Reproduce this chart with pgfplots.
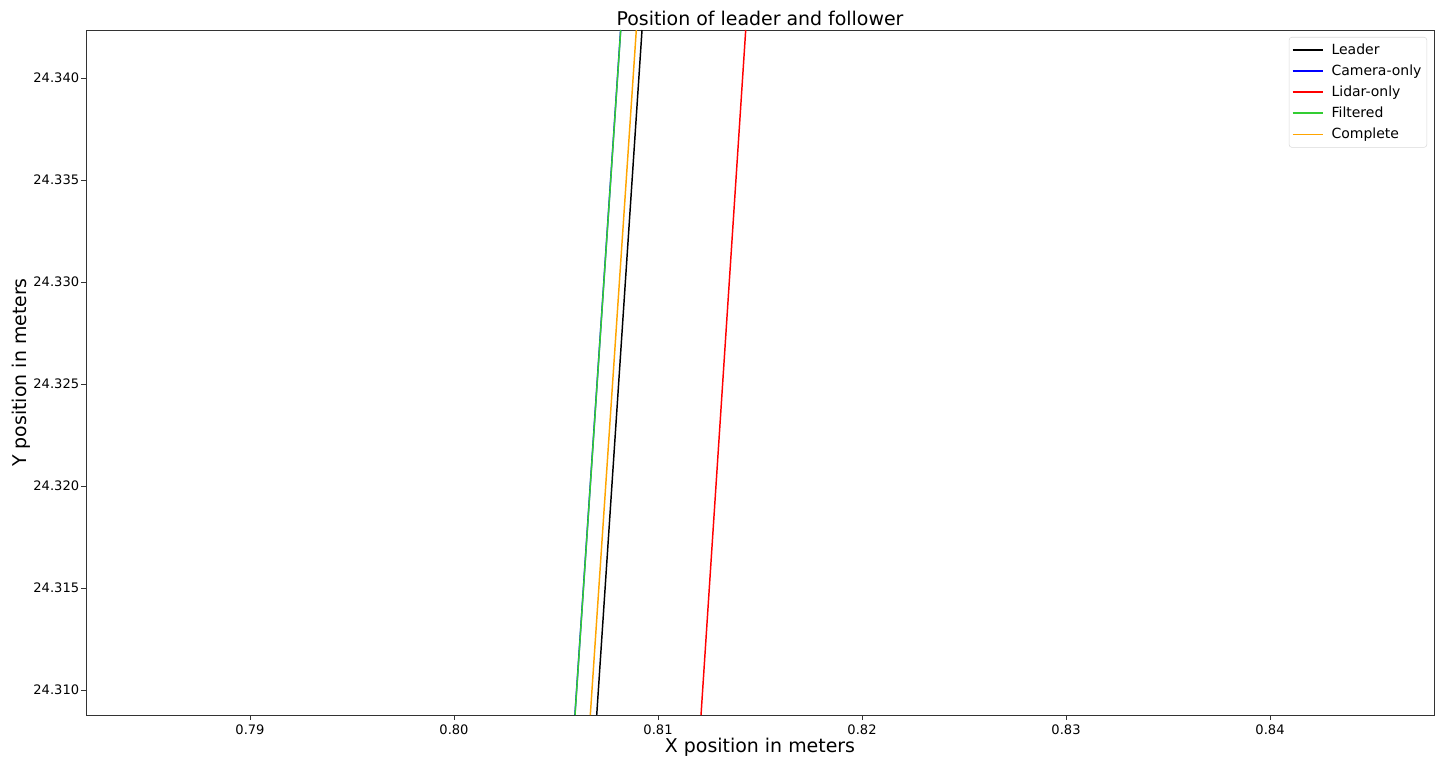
\documentclass[border=0pt]{standalone}
\usepackage{pgfplots}
\pgfplotsset{compat=1.18}
\usepackage{fontspec}
\setmainfont{DejaVu Sans}
\definecolor{mgreen}{RGB}{50,205,50}
\definecolor{morange}{RGB}{255,165,0}
\begin{document}
\begin{tikzpicture}
\useasboundingbox (-64.5pt,-34.5pt) rectangle (1016.25pt,536.25pt);
\begin{axis}[
  at={(0pt,0pt)}, anchor=south west,
  scale only axis, width=1011pt, height=513.75pt,
  xmin=0.78196, xmax=0.84804, ymin=24.308775, ymax=24.34235,
  xtick={0.79,0.80,0.81,0.82,0.83,0.84},
  ytick={24.310,24.315,24.320,24.325,24.330,24.335,24.340},
  xticklabel style={/pgf/number format/.cd, fixed, fixed zerofill, precision=2},
  yticklabel style={xshift=2pt, /pgf/number format/.cd, fixed, fixed zerofill, precision=3},
  /pgf/number format/assume math mode=true,
  scaled ticks=false,
  tick label style={font=\fontsize{9.8}{11}\selectfont},
  xtick pos=left, ytick pos=left, tick align=outside,
  major tick length=3.6pt,
  every tick/.style={black!80, line width=0.6pt},
  axis line style={black!80, line width=0.6pt},
  clip=true,
  title={Position of leader and follower},
  title style={at={(axis description cs:0.5,1.0058)}, anchor=center, yshift=0pt, font=\fontsize{14.2}{16}\selectfont},
  xlabel={X position in meters},
  ylabel={Y position in meters},
  xlabel style={at={(axis description cs:0.5,-0.0467)}, anchor=center, yshift=0pt, font=\fontsize{14.2}{16}\selectfont},
  ylabel style={at={(axis description cs:-0.0482,0.5)}, anchor=center, font=\fontsize{14.2}{16}\selectfont},
  legend style={at={(axis description cs:0.9948,0.9898)}, anchor=north east, draw=black!15, rounded corners=2pt,
    font=\fontsize{10.5}{12}\selectfont, row sep=2.3pt, column sep=4pt, inner xsep=2pt, inner ysep=3pt},
  legend cell align=left,
  legend image code/.code={\draw[#1, line width=1.3pt] (0pt,0pt) -- (22.5pt,0pt);},
]
\addplot[draw=black, line width=1.1pt] coordinates {(0.806995,24.308775) (0.809216,24.34235)};
\addlegendentry{Leader}
\addplot[draw=blue, line width=1.1pt] coordinates {(0.805926,24.308775) (0.808167,24.34235)};
\addlegendentry{Camera-only}
\addplot[draw=red, line width=1.1pt] coordinates {(0.812108,24.308775) (0.814299,24.34235)};
\addlegendentry{Lidar-only}
\addplot[draw=mgreen, line width=1.1pt] coordinates {(0.805931,24.308775) (0.808172,24.34235)};
\addlegendentry{Filtered}
\addplot[draw=morange, line width=1.1pt] coordinates {(0.806681,24.308775) (0.808936,24.34235)};
\addlegendentry{Complete}
\end{axis}
\end{tikzpicture}
\end{document}
